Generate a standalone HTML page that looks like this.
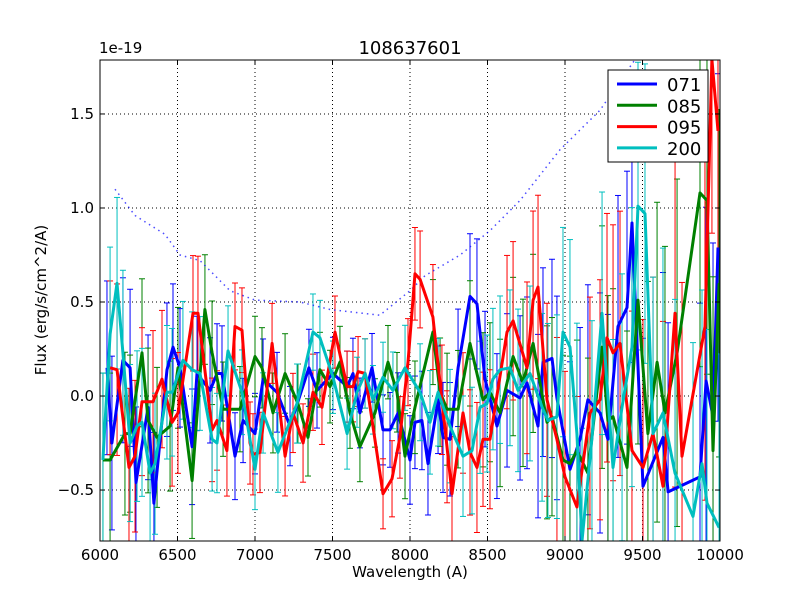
<!DOCTYPE html>
<html><head><meta charset="utf-8"><style>
html,body{margin:0;padding:0;background:#fff;width:800px;height:600px;overflow:hidden;}
svg{display:block;font-family:"DejaVu Sans","Liberation Sans",sans-serif;}
</style></head><body>
<svg id="chart" width="800" height="600" viewBox="0 0 800 600" xmlns="http://www.w3.org/2000/svg">
<rect width="800" height="600" fill="#fff"/>
<defs><clipPath id="pc"><rect x="100" y="60" width="620" height="481"/></clipPath></defs>
<g id="grid"></g>
<g id="series" clip-path="url(#pc)"></g>
<rect x="100" y="60" width="620" height="481" fill="none" stroke="#000" stroke-width="1"/>
<g id="ticks"></g>
<text x="410" y="54" font-size="18" text-anchor="middle">108637601</text>
<text x="99" y="53" font-size="15">1e-19</text>
<text x="410" y="577" font-size="15" text-anchor="middle">Wavelength (A)</text>
<text transform="translate(46,300) rotate(-90)" font-size="15" text-anchor="middle">Flux (erg/s/cm^2/A)</text>
<g id="legend"></g>
</svg>
<script>
const xTicks=[6000,6500,7000,7500,8000,8500,9000,9500,10000];
const yTicks=[-0.5,0.0,0.5,1.0,1.5];
const yTickLabels=["\u22120.5","0.0","0.5","1.0","1.5"];
const seriesNames=["071","085","095","200"];
const seriesColors=["#0000ff","#008000","#ff0000","#00bfbf"];
const noiseW=[6097,6226,6419,6516,6645,6839,7000,7290,7484,7806,8000,8097,8323,8516,8710,8968,9226,9452,9700];
const noiseF=[1.10,0.96,0.86,0.75,0.72,0.56,0.51,0.50,0.46,0.43,0.56,0.64,0.75,0.88,1.04,1.31,1.52,1.79,2.2];
const w071=[6045,6077,6148,6194,6232,6310,6348,6432,6471,6516,6594,6626,6710,6755,6787,6871,6923,7000,7052,7142,7226,7348,7400,7503,7594,7632,7677,7755,7826,7871,7923,8000,8032,8077,8116,8181,8213,8258,8310,8387,8432,8484,8561,8626,8710,8755,8826,8858,8916,8948,9032,9097,9148,9226,9277,9342,9400,9432,9503,9632,9665,9871,9910,9955,9987];
const f071=[0.15,-0.25,0.19,0.15,-0.46,-0.06,-0.57,0.14,0.26,0.15,-0.27,0.12,0.03,0.12,0.12,-0.32,-0.13,-0.20,0.09,0.02,-0.16,0.15,0.03,0.12,0.05,0.12,-0.09,0.15,-0.18,-0.18,-0.09,-0.34,-0.14,-0.13,-0.36,-0.02,-0.22,-0.23,0.15,0.53,0.49,0.09,-0.16,0.03,-0.01,0.07,-0.16,0.18,0.20,-0.01,-0.39,-0.23,-0.02,-0.09,-0.23,0.37,0.47,0.92,-0.48,-0.22,-0.51,-0.43,0.08,-0.11,0.79];
const w085=[6019,6065,6161,6194,6271,6310,6368,6452,6503,6594,6677,6723,6794,6903,7000,7045,7116,7194,7277,7342,7419,7484,7548,7613,7677,7774,7858,7916,7968,8032,8148,8194,8239,8310,8387,8471,8516,8581,8665,8729,8794,8884,8916,8987,9032,9077,9148,9239,9277,9310,9400,9471,9535,9594,9645,9723,9871,9916,9955,9994];
const f085=[-0.34,-0.34,-0.20,-0.20,0.23,-0.13,-0.22,-0.16,0.15,-0.45,0.46,0.23,-0.07,-0.07,0.21,0.15,-0.09,0.12,-0.04,-0.22,0.14,0.05,0.18,-0.09,-0.27,-0.09,0.18,0.02,-0.32,-0.06,0.34,0.02,-0.07,-0.07,0.28,-0.02,0.02,-0.09,0.21,0.07,0.28,-0.14,-0.11,-0.34,-0.36,-0.29,-0.41,0.26,-0.13,-0.11,-0.38,0.51,-0.20,0.18,-0.09,0.23,1.08,1.04,-0.29,0.60];
const w095=[6065,6110,6187,6226,6271,6342,6400,6465,6503,6600,6632,6723,6755,6819,6871,6916,6968,6987,7032,7110,7194,7245,7310,7374,7432,7516,7594,7632,7665,7710,7826,7884,7935,7987,8032,8065,8148,8206,8239,8271,8342,8387,8432,8471,8516,8626,8665,8755,8794,8826,8884,8948,9000,9077,9161,9226,9271,9310,9355,9432,9503,9568,9632,9710,9755,9903,9948,9987];
const f095=[0.15,0.14,-0.38,-0.32,-0.03,-0.03,0.09,-0.14,-0.09,0.44,0.44,-0.18,-0.13,-0.29,0.37,0.35,-0.25,-0.31,-0.30,0.28,-0.32,-0.09,-0.25,0.02,-0.06,0.34,0.05,0.05,0.13,0.12,-0.52,-0.44,-0.22,0.18,0.65,0.62,0.42,-0.02,-0.27,-0.52,-0.09,-0.30,-0.38,-0.23,-0.23,0.34,0.40,0.15,0.51,0.58,-0.02,-0.23,-0.43,-0.59,-0.09,-0.02,0.31,0.23,0.28,-0.29,-0.38,-0.20,-0.48,0.44,-0.32,0.37,1.79,1.41];
const w200=[6019,6065,6110,6148,6194,6239,6271,6323,6355,6432,6465,6535,6594,6645,6723,6755,6826,6916,7000,7052,7148,7271,7374,7419,7503,7594,7658,7710,7761,7826,7890,7968,8065,8129,8181,8258,8342,8400,8452,8497,8535,8581,8645,8697,8774,8852,8890,8948,8987,9032,9077,9110,9174,9239,9310,9368,9432,9471,9516,9568,9632,9710,9826,9884,9916,9994];
const f200=[-0.34,0.33,0.60,0.23,-0.25,-0.16,-0.14,-0.41,-0.36,0.02,0.02,0.19,0.14,0.12,-0.23,-0.25,0.24,0.02,-0.39,-0.09,-0.30,-0.04,0.34,0.31,0.10,-0.20,0.02,0.12,-0.02,0.10,0.03,0.15,0.02,-0.14,0.02,-0.16,-0.32,-0.29,-0.06,-0.04,0.09,0.14,0.15,0.03,0.12,-0.06,-0.13,-0.11,0.34,0.26,-0.20,-0.77,-0.22,0.44,-0.38,-0.06,0.26,1.01,0.97,-0.20,-0.09,-0.41,-0.64,-0.36,-0.57,-0.70];

const NS="http://www.w3.org/2000/svg";
const X0=100,X1=720,Y0=60,Y1=541,XMIN=6000,XMAX=10000,YMIN=-0.771,YMAX=1.787;
function sx(w){return X0+(w-XMIN)/(XMAX-XMIN)*(X1-X0);}
function sy(f){return Y1-(f-YMIN)/(YMAX-YMIN)*(Y1-Y0);}
function cy(f){return Math.max(Y0,Math.min(Y1,sy(f)));}
function mk(tag,attrs,parent){const e=document.createElementNS(NS,tag);for(const k in attrs)e.setAttribute(k,attrs[k]);parent.appendChild(e);return e;}
function noiseAt(w){if(w<=noiseW[0])return noiseF[0];for(let i=1;i<noiseW.length;i++){if(w<=noiseW[i]){const t=(w-noiseW[i-1])/(noiseW[i]-noiseW[i-1]);return noiseF[i-1]+t*(noiseF[i]-noiseF[i-1]);}}return noiseF[noiseF.length-1];}

const grid=document.getElementById('grid');
xTicks.forEach(v=>{const l=mk('line',{x1:sx(v),x2:sx(v),y1:Y0,y2:Y1,stroke:'#000','stroke-dasharray':'1,3','stroke-width':1},grid);

});
yTicks.forEach(v=>{const l=mk('line',{x1:X0,x2:X1,y1:sy(v),y2:sy(v),stroke:'#000','stroke-dasharray':'1,3','stroke-width':1},grid);

});

const series=document.getElementById('series');
const ws=[w071,w085,w095,w200], fs=[f071,f085,f095,f200];
ws.forEach((w,si)=>{const f=fs[si];const n=Math.min(w.length,f.length);
 for(let i=0;i<n;i++){const e=noiseAt(w[i])*0.42;const x=sx(w[i]);
  const g=mk('g',{stroke:seriesColors[si],'stroke-width':1},series);
  
  
  const lo=sy(f[i]-e), hi=sy(f[i]+e);
  mk('line',{x1:x,x2:x,y1:cy(f[i]-e),y2:cy(f[i]+e)},g);
  if(lo<=Y1) mk('line',{x1:x-3,x2:x+3,y1:lo,y2:lo},g);
  if(hi>=Y0) mk('line',{x1:x-3,x2:x+3,y1:hi,y2:hi},g);}
});
{let d='';for(let i=0;i<noiseW.length;i++){let x=sx(noiseW[i]),y=sy(noiseF[i]);if(y<Y0){const xp=sx(noiseW[i-1]),yp=sy(noiseF[i-1]);x=xp+(x-xp)*(yp-Y0)/(yp-y);y=Y0;}d+=(i?'L':'M')+x.toFixed(1)+','+y.toFixed(1);if(y<=Y0)break;}
const p=mk('path',{d:d,fill:'none',stroke:'#0000ff','stroke-width':1.5,'stroke-dasharray':'1.5,4',opacity:0.7},series);

}
ws.forEach((w,si)=>{const f=fs[si];const n=Math.min(w.length,f.length);let d='';
 for(let i=0;i<n;i++)d+=(i?'L':'M')+sx(w[i]).toFixed(1)+','+sy(f[i]).toFixed(1);
 const p=mk('path',{d:d,fill:'none',stroke:seriesColors[si],'stroke-width':3,'stroke-linejoin':'round'},series);
 
 });

const ticks=document.getElementById('ticks');
xTicks.forEach(v=>{const x=sx(v);
 mk('line',{x1:x,x2:x,y1:Y1,y2:Y1-5,stroke:'#000'},ticks);
 mk('line',{x1:x,x2:x,y1:Y0,y2:Y0+5,stroke:'#000'},ticks);
 const t=mk('text',{x:x,y:Y1+19,'font-size':15,'text-anchor':'middle'},ticks);t.textContent=v;
 
 });
yTicks.forEach((v,i)=>{const y=sy(v);
 mk('line',{x1:X0,x2:X0+5,y1:y,y2:y,stroke:'#000'},ticks);
 mk('line',{x1:X1,x2:X1-5,y1:y,y2:y,stroke:'#000'},ticks);
 const t=mk('text',{x:X0-6,y:y+5,'font-size':15,'text-anchor':'end'},ticks);t.textContent=yTickLabels[i];
 
 });

const lg=document.getElementById('legend');
mk('rect',{x:608,y:70,width:100,height:92,fill:'#fff',stroke:'#000'},lg);
seriesNames.forEach((nm,i)=>{const y=84+i*21.3;
 const g=mk('g',{},lg);
 
 
 mk('line',{x1:617,x2:657,y1:y,y2:y,stroke:seriesColors[i],'stroke-width':3},g);
 const t=mk('text',{x:667,y:y+7,'font-size':18},g);t.textContent=nm;});
</script>
</body></html>
